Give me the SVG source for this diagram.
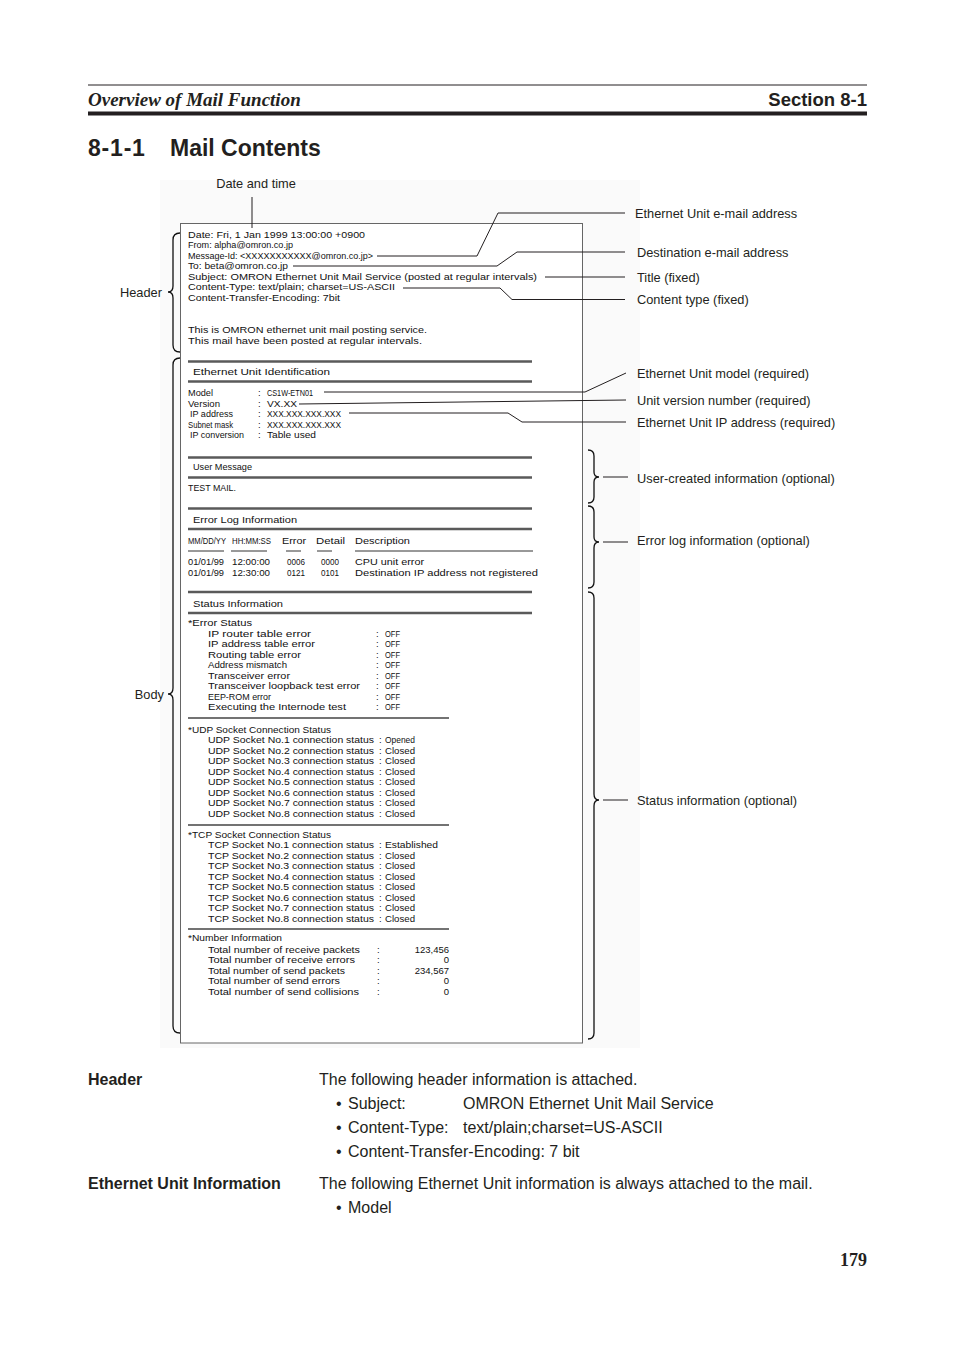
<svg xmlns="http://www.w3.org/2000/svg" width="954" height="1351" viewBox="0 0 954 1351">
<style>
.m{font-family:"Liberation Sans",Arial,sans-serif;font-size:9.5px;fill:#111}
.lbl{font-family:"Liberation Sans",Arial,sans-serif;font-size:12.8px;fill:#231f20}
.body{font-family:"Liberation Sans",Arial,sans-serif;font-size:16px;fill:#231f20}
.bold{font-weight:bold}
.dbl{stroke:#5a5a5a;stroke-width:2.6;fill:none}
.sgl{stroke:#444;stroke-width:1.4;fill:none}
.ul{stroke:#333;stroke-width:1;fill:none}
.con{stroke:#231f20;stroke-width:1;fill:none}
.brace{stroke:#111;stroke-width:1.3;fill:none}
</style>
<rect width="954" height="1351" fill="#ffffff"/>

<g id="page-header">
<line x1="88" y1="85" x2="867" y2="85" stroke="#231f20" stroke-width="1"/>
<text x="88" y="106" font-family="Liberation Serif,Times New Roman,serif" font-size="19" font-style="italic" font-weight="bold" fill="#231f20">Overview of Mail Function</text>
<text x="867" y="106" text-anchor="end" font-family="Liberation Sans,Arial,sans-serif" font-size="18.5" font-weight="bold" fill="#231f20">Section 8-1</text>
<line x1="88" y1="113.5" x2="867" y2="113.5" stroke="#231f20" stroke-width="4"/>
<text x="88" y="156" font-family="Liberation Sans,Arial,sans-serif" font-size="23" font-weight="bold" fill="#231f20" letter-spacing="0.8">8-1-1</text>
<text x="170" y="156" font-family="Liberation Sans,Arial,sans-serif" font-size="23" font-weight="bold" fill="#231f20">Mail Contents</text>
</g>

<rect x="160" y="180" width="480" height="868" fill="#fafafa"/>

<g id="mail-document">
<rect x="180.5" y="223.5" width="402" height="819.5" fill="#ffffff" stroke="#666" stroke-width="1"/>
<g id="mail-header">
<text class="m" x="188" y="237.5" textLength="177" lengthAdjust="spacingAndGlyphs">Date: Fri, 1 Jan 1999 13:00:00 +0900</text>
<text class="m" x="188" y="248" textLength="105" lengthAdjust="spacingAndGlyphs">From: alpha@omron.co.jp</text>
<text class="m" x="188" y="258.5" textLength="185" lengthAdjust="spacingAndGlyphs">Message-Id: &lt;XXXXXXXXXXX@omron.co.jp&gt;</text>
<text class="m" x="188" y="269" textLength="100" lengthAdjust="spacingAndGlyphs">To: beta@omron.co.jp</text>
<text class="m" x="188" y="279.5" textLength="349" lengthAdjust="spacingAndGlyphs">Subject: OMRON Ethernet Unit Mail Service (posted at regular intervals)</text>
<text class="m" x="188" y="290" textLength="207" lengthAdjust="spacingAndGlyphs">Content-Type: text/plain; charset=US-ASCII</text>
<text class="m" x="188" y="300.5" textLength="152" lengthAdjust="spacingAndGlyphs">Content-Transfer-Encoding: 7bit</text>
<text class="m" x="188" y="332.5" textLength="239" lengthAdjust="spacingAndGlyphs">This is OMRON ethernet unit mail posting service.</text>
<text class="m" x="188" y="343.5" textLength="234" lengthAdjust="spacingAndGlyphs">This mail have been posted at regular intervals.</text>
</g>
<g id="mail-identification">
<line class="dbl" x1="188" y1="361.5" x2="532" y2="361.5"/>
<text class="m" x="193" y="374.5" textLength="137" lengthAdjust="spacingAndGlyphs">Ethernet Unit Identification</text>
<line class="dbl" x1="188" y1="381.5" x2="532" y2="381.5"/>
<text class="m" x="188" y="396" textLength="25" lengthAdjust="spacingAndGlyphs">Model</text><text class="m" x="258" y="396">:</text><text class="m" x="267" y="396" textLength="46" lengthAdjust="spacingAndGlyphs">CS1W-ETN01</text>
<text class="m" x="188" y="406.5" textLength="32" lengthAdjust="spacingAndGlyphs">Version</text><text class="m" x="258" y="406.5">:</text><text class="m" x="267" y="406.5" textLength="30" lengthAdjust="spacingAndGlyphs">VX.XX</text>
<text class="m" x="190" y="417" textLength="43" lengthAdjust="spacingAndGlyphs">IP address</text><text class="m" x="258" y="417">:</text><text class="m" x="267" y="417" textLength="74" lengthAdjust="spacingAndGlyphs">XXX.XXX.XXX.XXX</text>
<text class="m" x="188" y="427.5" textLength="45" lengthAdjust="spacingAndGlyphs">Subnet mask</text><text class="m" x="258" y="427.5">:</text><text class="m" x="267" y="427.5" textLength="74" lengthAdjust="spacingAndGlyphs">XXX.XXX.XXX.XXX</text>
<text class="m" x="190" y="438" textLength="54" lengthAdjust="spacingAndGlyphs">IP conversion</text><text class="m" x="258" y="438">:</text><text class="m" x="267" y="438" textLength="49" lengthAdjust="spacingAndGlyphs">Table used</text>
</g>
<g id="mail-user-message">
<line class="dbl" x1="188" y1="457.5" x2="532" y2="457.5"/>
<text class="m" x="193" y="470" textLength="59" lengthAdjust="spacingAndGlyphs">User Message</text>
<line class="dbl" x1="188" y1="477.5" x2="532" y2="477.5"/>
<text class="m" x="188" y="491" textLength="48" lengthAdjust="spacingAndGlyphs">TEST MAIL.</text>
</g>
<g id="mail-error-log">
<line class="dbl" x1="188" y1="508.5" x2="532" y2="508.5"/>
<text class="m" x="193" y="522.5" textLength="104" lengthAdjust="spacingAndGlyphs">Error Log Information</text>
<line class="dbl" x1="188" y1="529" x2="532" y2="529"/>
<text class="m" x="188" y="543.5" textLength="38" lengthAdjust="spacingAndGlyphs">MM/DD/YY</text>
<text class="m" x="232" y="543.5" textLength="39" lengthAdjust="spacingAndGlyphs">HH:MM:SS</text>
<text class="m" x="282" y="543.5" textLength="24" lengthAdjust="spacingAndGlyphs">Error</text>
<text class="m" x="316" y="543.5" textLength="29" lengthAdjust="spacingAndGlyphs">Detail</text>
<text class="m" x="355" y="543.5" textLength="55" lengthAdjust="spacingAndGlyphs">Description</text>
<path class="ul" d="M188,551H224M231,551H267M286,551H301M317,551H332M355,551H533"/>
<text class="m" x="188" y="565" textLength="36" lengthAdjust="spacingAndGlyphs">01/01/99</text>
<text class="m" x="232" y="565" textLength="38" lengthAdjust="spacingAndGlyphs">12:00:00</text>
<text class="m" x="287" y="565" textLength="18" lengthAdjust="spacingAndGlyphs">0006</text>
<text class="m" x="321" y="565" textLength="18" lengthAdjust="spacingAndGlyphs">0000</text>
<text class="m" x="355" y="565" textLength="69" lengthAdjust="spacingAndGlyphs">CPU unit error</text>
<text class="m" x="188" y="575.5" textLength="36" lengthAdjust="spacingAndGlyphs">01/01/99</text>
<text class="m" x="232" y="575.5" textLength="38" lengthAdjust="spacingAndGlyphs">12:30:00</text>
<text class="m" x="287" y="575.5" textLength="18" lengthAdjust="spacingAndGlyphs">0121</text>
<text class="m" x="321" y="575.5" textLength="18" lengthAdjust="spacingAndGlyphs">0101</text>
<text class="m" x="355" y="575.5" textLength="183" lengthAdjust="spacingAndGlyphs">Destination IP address not registered</text>
</g>
<g id="mail-status">
<line class="dbl" x1="188" y1="592" x2="532" y2="592"/>
<text class="m" x="193" y="606.5" textLength="90" lengthAdjust="spacingAndGlyphs">Status Information</text>
<line class="dbl" x1="188" y1="613" x2="532" y2="613"/>
<text class="m" x="188" y="626" textLength="64" lengthAdjust="spacingAndGlyphs">*Error Status</text>
<text class="m" x="208" y="636.5" textLength="103" lengthAdjust="spacingAndGlyphs">IP router table error</text>
<text class="m" x="208" y="647" textLength="107" lengthAdjust="spacingAndGlyphs">IP address table error</text>
<text class="m" x="208" y="657.5" textLength="93" lengthAdjust="spacingAndGlyphs">Routing table error</text>
<text class="m" x="208" y="668" textLength="79" lengthAdjust="spacingAndGlyphs">Address mismatch</text>
<text class="m" x="208" y="678.5" textLength="82" lengthAdjust="spacingAndGlyphs">Transceiver error</text>
<text class="m" x="208" y="689" textLength="152" lengthAdjust="spacingAndGlyphs">Transceiver loopback test error</text>
<text class="m" x="208" y="699.5" textLength="63" lengthAdjust="spacingAndGlyphs">EEP-ROM error</text>
<text class="m" x="208" y="710" textLength="138" lengthAdjust="spacingAndGlyphs">Executing the Internode test</text>
<g>
<text class="m" x="376" y="636.5">:</text><text class="m" x="385" y="636.5" textLength="15" lengthAdjust="spacingAndGlyphs">OFF</text>
<text class="m" x="376" y="647">:</text><text class="m" x="385" y="647" textLength="15" lengthAdjust="spacingAndGlyphs">OFF</text>
<text class="m" x="376" y="657.5">:</text><text class="m" x="385" y="657.5" textLength="15" lengthAdjust="spacingAndGlyphs">OFF</text>
<text class="m" x="376" y="668">:</text><text class="m" x="385" y="668" textLength="15" lengthAdjust="spacingAndGlyphs">OFF</text>
<text class="m" x="376" y="678.5">:</text><text class="m" x="385" y="678.5" textLength="15" lengthAdjust="spacingAndGlyphs">OFF</text>
<text class="m" x="376" y="689">:</text><text class="m" x="385" y="689" textLength="15" lengthAdjust="spacingAndGlyphs">OFF</text>
<text class="m" x="376" y="699.5">:</text><text class="m" x="385" y="699.5" textLength="15" lengthAdjust="spacingAndGlyphs">OFF</text>
<text class="m" x="376" y="710">:</text><text class="m" x="385" y="710" textLength="15" lengthAdjust="spacingAndGlyphs">OFF</text>
</g>
<line class="sgl" x1="188" y1="718" x2="449" y2="718"/>
<text class="m" x="188" y="732.5" textLength="143" lengthAdjust="spacingAndGlyphs">*UDP Socket Connection Status</text>
<text class="m" x="208" y="743" textLength="166" lengthAdjust="spacingAndGlyphs">UDP Socket No.1 connection status</text><text class="m" x="379" y="743">:</text><text class="m" x="385" y="743" textLength="30" lengthAdjust="spacingAndGlyphs">Opened</text>
<text class="m" x="208" y="753.5" textLength="166" lengthAdjust="spacingAndGlyphs">UDP Socket No.2 connection status</text><text class="m" x="379" y="753.5">:</text><text class="m" x="385" y="753.5" textLength="30" lengthAdjust="spacingAndGlyphs">Closed</text>
<text class="m" x="208" y="764" textLength="166" lengthAdjust="spacingAndGlyphs">UDP Socket No.3 connection status</text><text class="m" x="379" y="764">:</text><text class="m" x="385" y="764" textLength="30" lengthAdjust="spacingAndGlyphs">Closed</text>
<text class="m" x="208" y="774.5" textLength="166" lengthAdjust="spacingAndGlyphs">UDP Socket No.4 connection status</text><text class="m" x="379" y="774.5">:</text><text class="m" x="385" y="774.5" textLength="30" lengthAdjust="spacingAndGlyphs">Closed</text>
<text class="m" x="208" y="785" textLength="166" lengthAdjust="spacingAndGlyphs">UDP Socket No.5 connection status</text><text class="m" x="379" y="785">:</text><text class="m" x="385" y="785" textLength="30" lengthAdjust="spacingAndGlyphs">Closed</text>
<text class="m" x="208" y="795.5" textLength="166" lengthAdjust="spacingAndGlyphs">UDP Socket No.6 connection status</text><text class="m" x="379" y="795.5">:</text><text class="m" x="385" y="795.5" textLength="30" lengthAdjust="spacingAndGlyphs">Closed</text>
<text class="m" x="208" y="806" textLength="166" lengthAdjust="spacingAndGlyphs">UDP Socket No.7 connection status</text><text class="m" x="379" y="806">:</text><text class="m" x="385" y="806" textLength="30" lengthAdjust="spacingAndGlyphs">Closed</text>
<text class="m" x="208" y="816.5" textLength="166" lengthAdjust="spacingAndGlyphs">UDP Socket No.8 connection status</text><text class="m" x="379" y="816.5">:</text><text class="m" x="385" y="816.5" textLength="30" lengthAdjust="spacingAndGlyphs">Closed</text>
<line class="sgl" x1="188" y1="825" x2="449" y2="825"/>
<text class="m" x="188" y="837.5" textLength="143" lengthAdjust="spacingAndGlyphs">*TCP Socket Connection Status</text>
<text class="m" x="208" y="848" textLength="166" lengthAdjust="spacingAndGlyphs">TCP Socket No.1 connection status</text><text class="m" x="379" y="848">:</text><text class="m" x="385" y="848" textLength="53" lengthAdjust="spacingAndGlyphs">Established</text>
<text class="m" x="208" y="858.5" textLength="166" lengthAdjust="spacingAndGlyphs">TCP Socket No.2 connection status</text><text class="m" x="379" y="858.5">:</text><text class="m" x="385" y="858.5" textLength="30" lengthAdjust="spacingAndGlyphs">Closed</text>
<text class="m" x="208" y="869" textLength="166" lengthAdjust="spacingAndGlyphs">TCP Socket No.3 connection status</text><text class="m" x="379" y="869">:</text><text class="m" x="385" y="869" textLength="30" lengthAdjust="spacingAndGlyphs">Closed</text>
<text class="m" x="208" y="879.5" textLength="166" lengthAdjust="spacingAndGlyphs">TCP Socket No.4 connection status</text><text class="m" x="379" y="879.5">:</text><text class="m" x="385" y="879.5" textLength="30" lengthAdjust="spacingAndGlyphs">Closed</text>
<text class="m" x="208" y="890" textLength="166" lengthAdjust="spacingAndGlyphs">TCP Socket No.5 connection status</text><text class="m" x="379" y="890">:</text><text class="m" x="385" y="890" textLength="30" lengthAdjust="spacingAndGlyphs">Closed</text>
<text class="m" x="208" y="900.5" textLength="166" lengthAdjust="spacingAndGlyphs">TCP Socket No.6 connection status</text><text class="m" x="379" y="900.5">:</text><text class="m" x="385" y="900.5" textLength="30" lengthAdjust="spacingAndGlyphs">Closed</text>
<text class="m" x="208" y="911" textLength="166" lengthAdjust="spacingAndGlyphs">TCP Socket No.7 connection status</text><text class="m" x="379" y="911">:</text><text class="m" x="385" y="911" textLength="30" lengthAdjust="spacingAndGlyphs">Closed</text>
<text class="m" x="208" y="921.5" textLength="166" lengthAdjust="spacingAndGlyphs">TCP Socket No.8 connection status</text><text class="m" x="379" y="921.5">:</text><text class="m" x="385" y="921.5" textLength="30" lengthAdjust="spacingAndGlyphs">Closed</text>
<line class="sgl" x1="188" y1="929" x2="449" y2="929"/>
<text class="m" x="188" y="941" textLength="94" lengthAdjust="spacingAndGlyphs">*Number Information</text>
<text class="m" x="208" y="952.5" textLength="152" lengthAdjust="spacingAndGlyphs">Total number of receive packets</text><text class="m" x="377" y="952.5">:</text><text class="m" x="449" y="952.5" text-anchor="end">123,456</text>
<text class="m" x="208" y="963" textLength="147" lengthAdjust="spacingAndGlyphs">Total number of receive errors</text><text class="m" x="377" y="963">:</text><text class="m" x="449" y="963" text-anchor="end">0</text>
<text class="m" x="208" y="973.5" textLength="137" lengthAdjust="spacingAndGlyphs">Total number of send packets</text><text class="m" x="377" y="973.5">:</text><text class="m" x="449" y="973.5" text-anchor="end">234,567</text>
<text class="m" x="208" y="984" textLength="132" lengthAdjust="spacingAndGlyphs">Total number of send errors</text><text class="m" x="377" y="984">:</text><text class="m" x="449" y="984" text-anchor="end">0</text>
<text class="m" x="208" y="994.5" textLength="151" lengthAdjust="spacingAndGlyphs">Total number of send collisions</text><text class="m" x="377" y="994.5">:</text><text class="m" x="449" y="994.5" text-anchor="end">0</text>
</g>
</g>

<g id="braces">
<path class="brace" d="M180,233 Q173,233 173,240 L173,286 Q173,292 168,292 Q173,292 173,298 L173,345 Q173,352 180,352"/>
<path class="brace" d="M180,358 Q173,358 173,365 L173,688 Q173,694 168,694 Q173,694 173,700 L173,1026 Q173,1033 180,1033"/>
<path class="brace" d="M588,450 Q594,450 594,456 L594,472 Q594,477 599,477 Q594,477 594,482 L594,497 Q594,503 588,503"/>
<path class="brace" d="M588,506 Q594,506 594,512 L594,537 Q594,542 599,542 Q594,542 594,548 L594,582 Q594,588 588,588"/>
<path class="brace" d="M588,592 Q594,592 594,598 L594,794 Q594,800 599,800 Q594,800 594,806 L594,1033 Q594,1039 588,1039"/>
</g>

<g id="connectors">
<line class="con" x1="252" y1="197" x2="252" y2="228"/>
<polyline class="con" points="377,256 477,256 498,213 625,213"/>
<polyline class="con" points="293,266 497,266 517,252 625,252"/>
<line class="con" x1="545" y1="277" x2="625" y2="277"/>
<polyline class="con" points="403,288 500,288 512,299.5 625,299.5"/>
<polyline class="con" points="324,392 585,392 626,373"/>
<line class="con" x1="299" y1="404" x2="626" y2="400"/>
<polyline class="con" points="349,413 508,413 522,422 626,422"/>
<line class="con" x1="603" y1="477" x2="628" y2="477"/>
<line class="con" x1="603" y1="542" x2="628" y2="542"/>
<line class="con" x1="603" y1="800" x2="628" y2="800"/>
</g>

<g id="label-date-time"><text class="lbl" x="256" y="188" text-anchor="middle">Date and time</text></g>
<g id="label-header"><text class="lbl" x="162" y="296.5" text-anchor="end">Header</text></g>
<g id="label-body"><text class="lbl" x="164" y="698.5" text-anchor="end">Body</text></g>
<g id="label-email"><text class="lbl" x="635" y="217.5">Ethernet Unit e-mail address</text></g>
<g id="label-dest"><text class="lbl" x="637" y="256.5">Destination e-mail address</text></g>
<g id="label-title"><text class="lbl" x="637" y="281.5">Title (fixed)</text></g>
<g id="label-ctype"><text class="lbl" x="637" y="304">Content type (fixed)</text></g>
<g id="label-model"><text class="lbl" x="637" y="377.5">Ethernet Unit model (required)</text></g>
<g id="label-version"><text class="lbl" x="637" y="404.5">Unit version number (required)</text></g>
<g id="label-ip"><text class="lbl" x="637" y="426.5">Ethernet Unit IP address (required)</text></g>
<g id="label-user"><text class="lbl" x="637" y="482.5">User-created information (optional)</text></g>
<g id="label-errlog"><text class="lbl" x="637" y="544.5">Error log information (optional)</text></g>
<g id="label-status"><text class="lbl" x="637" y="804.5">Status information (optional)</text></g>

<g id="page-text">
<text class="body bold" x="88" y="1084.7">Header</text>
<text class="body" x="319" y="1084.7">The following header information is attached.</text>
<text class="body" x="336" y="1108.7">•</text><text class="body" x="348" y="1108.7">Subject:</text><text class="body" x="463" y="1108.7">OMRON Ethernet Unit Mail Service</text>
<text class="body" x="336" y="1132.7">•</text><text class="body" x="348" y="1132.7">Content-Type:</text><text class="body" x="463" y="1132.7">text/plain;charset=US-ASCII</text>
<text class="body" x="336" y="1156.7">•</text><text class="body" x="348" y="1156.7">Content-Transfer-Encoding: 7 bit</text>
<text class="body bold" x="88" y="1188.7">Ethernet Unit Information</text>
<text class="body" x="319" y="1188.7">The following Ethernet Unit information is always attached to the mail.</text>
<text class="body" x="336" y="1212.7">•</text><text class="body" x="348" y="1212.7">Model</text>
<text x="867" y="1266" text-anchor="end" font-family="Liberation Serif,Times New Roman,serif" font-size="18" font-weight="bold" fill="#231f20">179</text>
</g>
</svg>
